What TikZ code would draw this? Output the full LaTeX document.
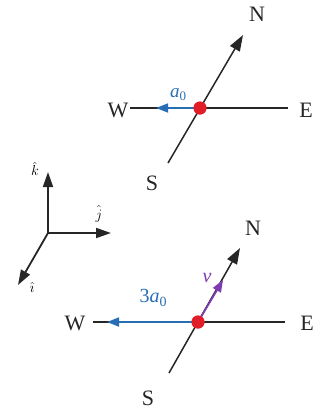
\documentclass[tikz,border=0pt]{standalone}
\usepackage{fontspec}
\setmainfont{Liberation Serif}
\usetikzlibrary{arrows.meta}
\definecolor{vblue}{RGB}{40,110,180}
\definecolor{vpurple}{RGB}{125,60,175}
\definecolor{dotred}{RGB}{225,30,40}
\tikzset{
  axisline/.style={line width=1.5pt, color=black!85},
  bigarrow/.style={line width=1.5pt, color=black!85, -{Triangle[length=16pt,width=11pt]}},
  bluearrow/.style={line width=1.7pt, color=vblue, -{Triangle[length=12pt,width=9pt]}},
  purplearrow/.style={line width=1.8pt, color=vpurple, -{Triangle[length=12pt,width=9pt]}},
  compass/.style={font=\fontsize{22}{24}\selectfont, text=black!85, inner sep=0pt},
  coordarrow/.style={line width=1.8pt, color=black!85, -{Triangle[length=15pt,width=10pt]}},
  coordlabel/.style={font=\fontsize{15}{16}\selectfont, inner sep=0pt},
  reddot/.style={circle, fill=dotred, minimum size=13pt, inner sep=0pt},
}
\begin{document}
\begin{tikzpicture}[x=1pt,y=-1pt]
\useasboundingbox (0,0) rectangle (324,410);
% ---------- top ----------
\coordinate (W1) at (130,108);
\coordinate (E1) at (288,108);
\coordinate (S1) at (168,163);
\coordinate (N1) at (243,35);
\coordinate (A1) at (156,108);
\draw[axisline] (W1) -- (E1);
\draw[bigarrow] (S1) -- (N1);
\node[reddot] (O1) at (200,108) {};
\draw[bluearrow] (O1.center) -- (A1);
\node[reddot] at (O1) {};
\node[compass] (LN1) at (257,14) {N};
\node[compass] (LE1) at (306,110) {E};
\node[compass] (LW1) at (118,110) {W};
\node[compass] (LS1) at (152,183) {S};
\node[inner sep=0pt, text=vblue, font=\fontsize{19}{21}\selectfont] (La1) at (178,95) {\textit{a}\raisebox{-0.35ex}{\fontsize{13}{13}\selectfont 0}};
% ---------- axes ----------
\coordinate (C0) at (48,233);
\coordinate (Ck) at (48,172);
\coordinate (Cj) at (111,233);
\coordinate (Ci) at (18,285);
\draw[coordarrow] (C0) -- (Ck);
\draw[coordarrow] (C0) -- (Cj);
\draw[coordarrow] (C0) -- (Ci);
\node[coordlabel] (Lk) at (35,169) {$\hat{k}$};
\node[coordlabel] (Lj) at (99,214) {$\hat{j}$};
\node[coordlabel] (Li) at (32,287) {$\hat{\imath}$};
% ---------- bottom ----------
\coordinate (W2) at (93,322);
\coordinate (E2) at (285,322);
\coordinate (S2) at (169,373);
\coordinate (N2) at (240,248);
\coordinate (A2) at (107,322);
\coordinate (V2) at (223,280);
\draw[axisline] (W2) -- (E2);
\draw[bigarrow] (S2) -- (N2);
\node[reddot] (O2) at (198,322) {};
\draw[bluearrow] (O2.center) -- (A2);
\draw[purplearrow] (O2.center) -- (V2);
\node[reddot] at (O2) {};
\node[compass] (LN2) at (253,228) {N};
\node[compass] (LE2) at (307,323) {E};
\node[compass] (LW2) at (75,323) {W};
\node[compass] (LS2) at (148,398) {S};
\node[inner sep=0pt, text=vblue, font=\fontsize{20}{22}\selectfont] (La2) at (153,298) {3\textit{a}\raisebox{-0.35ex}{\fontsize{14}{14}\selectfont 0}};
\node[inner sep=0pt, text=vpurple, font=\fontsize{20}{22}\selectfont] (Lv) at (207,278) {\textit{v}};
\end{tikzpicture}
\end{document}
